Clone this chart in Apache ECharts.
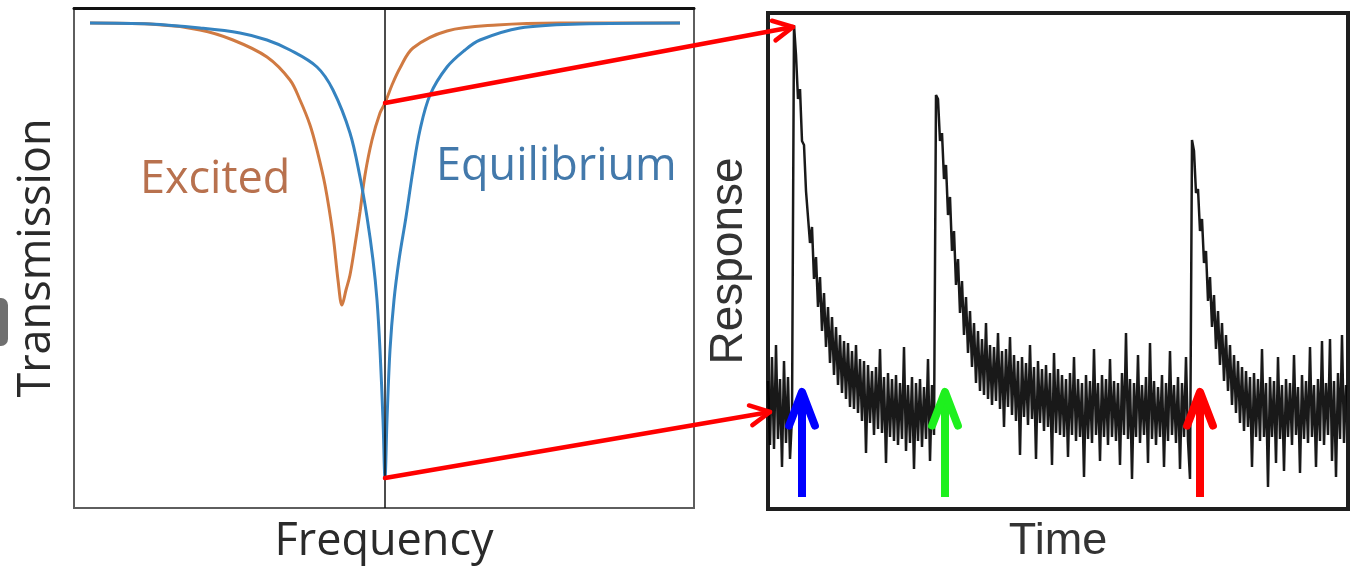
<!DOCTYPE html>
<html>
<head>
<meta charset="utf-8">
<script src="https://cdn.jsdelivr.net/npm/echarts@6/dist/echarts.min.js"></script>
<style>
  html, body { margin: 0; padding: 0; background: #fff; }
  #chart { width: 1355px; height: 570px; }
</style>
</head>
<body>
<div id="chart"></div>
<script>
// left panel: frequency (arb. units) and transmission (%)
const equilibriumFreq = [16, 76, 126, 166, 193, 216, 243, 259, 276, 286, 293, 299, 303, 306, 309, 311,
  313, 316, 320, 325, 332, 339, 346, 356, 373, 391, 406, 446, 506, 606];
const equilibriumTrans = [97, 96.8, 96, 95, 93.6, 91.6, 88.2, 83.6, 75, 66.2, 58.2, 49.6, 41.6, 31.6, 17.6, 6,
  17.6, 31.6, 41.6, 49.6, 58.2, 67.6, 75.6, 82.6, 88.2, 91.6, 93.6, 96, 96.8, 97];
const excitedFreq = [16, 76, 126, 159, 193, 216, 226, 236, 243, 251, 259, 264, 268,
  272, 276, 281, 286, 291, 298, 306, 311, 318, 326, 339, 373, 423, 486, 606];
const excitedTrans = [97, 96.8, 95.6, 93.6, 90.2, 85.6, 81.6, 76.6, 71.6, 64.6, 54.6, 45.6, 40.6,
  43.6, 46.6, 52.6, 59.2, 66.6, 73.6, 79, 81, 84.6, 88, 92, 95.4, 96.6, 97, 97];
const centerFreq = 311;

// right panel: response trace, one sample every 2 time units
const timeStep = 2;
const response = [
  // baseline, first pulse
  126, 62, 150, 58, 162, 68, 128, 40, 146, 64, 130, 48, 90, 482,
  // first decay
  452, 408, 418, 366, 362, 316, 314, 264, 280, 228, 250, 200, 230, 176, 214, 160,
  200, 144, 190, 132, 180, 122, 172, 114, 166, 108, 164, 100, 156, 98, 162, 94,
  148, 86, 146, 54, 142, 84, 136, 72, 140, 78, 158, 74, 130, 44, 134, 70,
  128, 66, 132, 62, 124, 68, 160, 56, 122, 64, 130, 38, 124, 66, 128, 60,
  120, 68, 148, 46, 122, 72,
  // second pulse and decay
  412,
  408, 366, 374, 328, 342, 292, 310, 256, 276, 222, 248, 194, 226, 172, 210, 154,
  196, 140, 184, 124, 176, 116, 168, 112, 184, 108, 162, 102, 160, 106, 174, 98,
  156, 80, 158, 100, 170, 92, 152, 86, 146, 52, 150, 90, 144, 82, 162, 88,
  140, 48, 146, 84, 138, 76, 142, 80, 134, 42, 154, 74, 138, 72, 132, 70,
  128, 50, 134, 72, 150, 66, 128, 70, 124, 30, 132, 68, 126, 64, 158, 72,
  124, 46, 132, 70, 128, 62, 148, 70, 126, 66, 124, 42, 134, 72, 174, 68,
  128, 28, 124, 70, 152, 64, 122, 72, 130, 44, 164, 68, 126, 62, 120, 70,
  132, 40, 124, 66, 156, 72, 122, 64, 130, 38, 124, 70, 150, 66, 28, 367,
  // third decay and baseline
  356, 314, 318, 276, 288, 244, 256, 206, 230, 180, 212, 158, 196, 142, 184, 126,
  172, 116, 162, 102, 152, 94, 146, 84, 140, 76, 136, 80, 130, 40, 134, 70,
  128, 66, 158, 70, 124, 20, 130, 70, 126, 44, 150, 68, 122, 36, 128, 70,
  124, 62, 152, 72, 120, 34, 132, 68, 126, 64, 160, 70, 122, 40, 128, 66,
  166, 62, 124, 72, 168, 46, 126, 30, 134, 68, 172, 64, 122
];
const pulseTimes = [34, 177, 432];
const pulseColors = ['#0000ff', '#1ef01e', '#ff0000'];

const textFont = '"Open Sans", "Noto Sans", sans-serif';
const arialFont = '"Liberation Sans", Arial, sans-serif';

const chart = echarts.init(document.getElementById('chart'));

const option = {
  animation: false,
  backgroundColor: '#fff',
  grid: [
    { left: 74, right: 661, top: 8, bottom: 62, outerBoundsMode: 'none', containLabel: false,
      show: true, borderColor: '#5e5e5e', borderWidth: 2 },
    { left: 768, right: 7, top: 13, bottom: 61, outerBoundsMode: 'none', containLabel: false,
      show: true, borderColor: '#1e1e1e', borderWidth: 4 }
  ],
  xAxis: [
    {
      gridIndex: 0, type: 'value', min: 0, max: 620,
      name: 'Frequency', nameLocation: 'middle', nameGap: 12,
      nameTextStyle: { fontFamily: textFont, fontSize: 45, color: '#2a2a2a', verticalAlign: 'top' },
      axisLine: { show: false }, axisTick: { show: false }, axisLabel: { show: false }, splitLine: { show: false }
    },
    {
      gridIndex: 0, type: 'value', min: 0, max: 620, position: 'top',
      axisLine: { show: true, lineStyle: { color: '#111', width: 3 } },
      axisTick: { show: false }, axisLabel: { show: false }, splitLine: { show: false }
    },
    {
      gridIndex: 1, type: 'value', min: 0, max: 580,
      name: 'Time', nameLocation: 'middle', nameGap: 10,
      nameTextStyle: { fontFamily: arialFont, fontSize: 45, color: '#333', verticalAlign: 'top' },
      axisLine: { show: false }, axisTick: { show: false }, axisLabel: { show: false }, splitLine: { show: false }
    }
  ],
  yAxis: [
    {
      gridIndex: 0, type: 'value', min: 0, max: 100,
      name: 'Transmission', nameLocation: 'middle', nameGap: 14, nameRotate: 90,
      nameTextStyle: { fontFamily: textFont, fontSize: 45, color: '#2a2a2a', verticalAlign: 'bottom' },
      axisLine: { show: false }, axisTick: { show: false }, axisLabel: { show: false }, splitLine: { show: false }
    },
    {
      gridIndex: 1, type: 'value', min: -2, max: 494,
      name: 'Response', nameLocation: 'middle', nameGap: 16, nameRotate: 90,
      nameTextStyle: { fontFamily: arialFont, fontSize: 46, color: '#333', verticalAlign: 'bottom' },
      axisLine: { show: false }, axisTick: { show: false }, axisLabel: { show: false }, splitLine: { show: false }
    }
  ],
  series: [
    {
      name: 'Excited', type: 'line', xAxisIndex: 0, yAxisIndex: 0,
      data: excitedFreq.map((f, i) => [f, excitedTrans[i]]),
      smooth: 0.35, showSymbol: false,
      lineStyle: { color: '#d07a42', width: 3 }
    },
    {
      name: 'Equilibrium', type: 'line', xAxisIndex: 0, yAxisIndex: 0,
      data: equilibriumFreq.map((f, i) => [f, equilibriumTrans[i]]),
      smooth: 0.35, showSymbol: false,
      lineStyle: { color: '#3583c0', width: 3 },
      markLine: {
        silent: true, symbol: 'none', label: { show: false },
        lineStyle: { color: '#111', width: 1.5, type: 'solid' },
        data: [{ xAxis: centerFreq }]
      }
    },
    {
      name: 'Response', type: 'line', xAxisIndex: 2, yAxisIndex: 1,
      data: response.map((r, i) => [i * timeStep, r]),
      showSymbol: false,
      lineStyle: { color: '#000', width: 2.5, join: 'bevel', opacity: 0.9 }
    }
  ]
};
chart.setOption(option);

// annotations positioned from data coordinates
const px = (grid, coord) => chart.convertToPixel({ gridIndex: grid }, coord);

function chevron(tip, from, len, angleDeg) {
  const a = Math.atan2(from[1] - tip[1], from[0] - tip[0]);
  const d = angleDeg * Math.PI / 180;
  return [
    [tip[0] + len * Math.cos(a + d), tip[1] + len * Math.sin(a + d)],
    tip,
    [tip[0] + len * Math.cos(a - d), tip[1] + len * Math.sin(a - d)]
  ];
}

const graphics = [];

// red arrows linking the two panels
const links = [
  [px(0, [centerFreq, 81]), px(1, [25, 480])],
  [px(0, [centerFreq, 6]), px(1, [2, 95])]
];
links.forEach(([s, e]) => {
  graphics.push({
    type: 'polyline', z: 100,
    shape: { points: [s, e] },
    style: { stroke: '#ff0000', lineWidth: 4.5, fill: null, lineCap: 'round' }
  });
  graphics.push({
    type: 'polyline', z: 100,
    shape: { points: chevron(e, s, 22, 27) },
    style: { stroke: '#ff0000', lineWidth: 4.5, fill: null, lineCap: 'round', lineJoin: 'round' }
  });
});

// pulse arrows
pulseTimes.forEach((t, k) => {
  const bottom = px(1, [t, 10]);
  const tip = px(1, [t, 115]);
  graphics.push({
    type: 'polyline', z: 100,
    shape: { points: [bottom, [tip[0], tip[1] + 4]] },
    style: { stroke: pulseColors[k], lineWidth: 8, fill: null, lineCap: 'butt' }
  });
  graphics.push({
    type: 'polyline', z: 100,
    shape: { points: chevron(tip, bottom, 36, 21) },
    style: { stroke: pulseColors[k], lineWidth: 8, fill: null, lineCap: 'round', lineJoin: 'round' }
  });
});

// curve labels
graphics.push({
  type: 'text', left: 140, top: 158, z: 50,
  style: { text: 'Excited', font: '45px ' + textFont, fill: '#b8714e' }
});
graphics.push({
  type: 'text', left: 436, top: 145, z: 50,
  style: { text: 'Equilibrium', font: '45px ' + textFont, fill: '#4379ab' }
});
// cropped grey shape at the left edge
graphics.push({
  type: 'rect', z: 50,
  shape: { x: -12, y: 298, width: 20, height: 48, r: 7 },
  style: { fill: '#6f6f6f' }
});

chart.setOption({ graphic: graphics });
</script>
</body>
</html>
